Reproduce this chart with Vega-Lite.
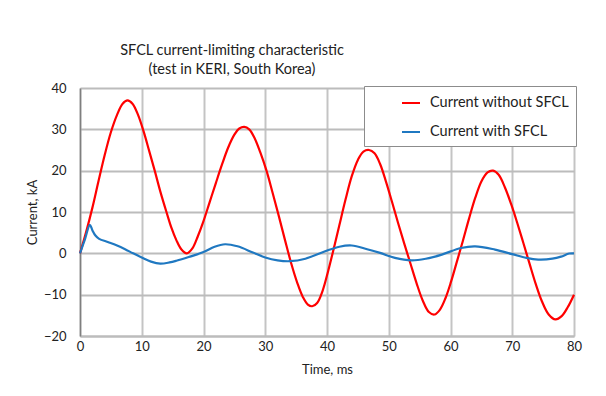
{
  "$schema": "https://vega.github.io/schema/vega-lite/v6.json",
  "width": 494,
  "height": 248,
  "autosize": {"type": "none"},
  "padding": {"left": 80, "top": 88, "right": 32, "bottom": 60},
  "background": "white",
  "title": {
    "text": ["SFCL current-limiting characteristic", "(test in KERI, South Korea)"],
    "anchor": "middle",
    "frame": "group",
    "dx": -95,
    "offset": 5,
    "fontSize": 14.5,
    "lineHeight": 19,
    "fontWeight": "normal",
    "font": "Lato",
    "color": "#222"
  },
  "datasets": {
    "curves": [
      {"t": 0, "i": 0, "series": "Current without SFCL"},
      {"t": 1.0, "i": 5.2, "series": "Current without SFCL"},
      {"t": 2.0, "i": 11, "series": "Current without SFCL"},
      {"t": 3.0, "i": 17.5, "series": "Current without SFCL"},
      {"t": 4.0, "i": 23.8, "series": "Current without SFCL"},
      {"t": 5.0, "i": 29.3, "series": "Current without SFCL"},
      {"t": 6.0, "i": 33.5, "series": "Current without SFCL"},
      {"t": 6.9, "i": 36.2, "series": "Current without SFCL"},
      {"t": 7.7, "i": 37, "series": "Current without SFCL"},
      {"t": 8.5, "i": 36.2, "series": "Current without SFCL"},
      {"t": 9.4, "i": 33.5, "series": "Current without SFCL"},
      {"t": 10.3, "i": 29.5, "series": "Current without SFCL"},
      {"t": 11.2, "i": 24.8, "series": "Current without SFCL"},
      {"t": 12.1, "i": 20, "series": "Current without SFCL"},
      {"t": 13.0, "i": 15, "series": "Current without SFCL"},
      {"t": 14.0, "i": 10, "series": "Current without SFCL"},
      {"t": 14.8, "i": 6.2, "series": "Current without SFCL"},
      {"t": 15.6, "i": 3.2, "series": "Current without SFCL"},
      {"t": 16.4, "i": 1.0, "series": "Current without SFCL"},
      {"t": 17.3, "i": 0, "series": "Current without SFCL"},
      {"t": 18.2, "i": 1.2, "series": "Current without SFCL"},
      {"t": 19.1, "i": 4.2, "series": "Current without SFCL"},
      {"t": 20.0, "i": 7.8, "series": "Current without SFCL"},
      {"t": 21.0, "i": 12.4, "series": "Current without SFCL"},
      {"t": 22.0, "i": 17, "series": "Current without SFCL"},
      {"t": 23.0, "i": 21.5, "series": "Current without SFCL"},
      {"t": 24.0, "i": 25.6, "series": "Current without SFCL"},
      {"t": 25.0, "i": 28.7, "series": "Current without SFCL"},
      {"t": 25.8, "i": 30.2, "series": "Current without SFCL"},
      {"t": 26.6, "i": 30.6, "series": "Current without SFCL"},
      {"t": 27.4, "i": 30, "series": "Current without SFCL"},
      {"t": 28.3, "i": 27.8, "series": "Current without SFCL"},
      {"t": 29.2, "i": 24.4, "series": "Current without SFCL"},
      {"t": 30.2, "i": 20, "series": "Current without SFCL"},
      {"t": 31.2, "i": 14.6, "series": "Current without SFCL"},
      {"t": 32.2, "i": 9, "series": "Current without SFCL"},
      {"t": 33.2, "i": 3.2, "series": "Current without SFCL"},
      {"t": 34.2, "i": -2.4, "series": "Current without SFCL"},
      {"t": 35.2, "i": -7.2, "series": "Current without SFCL"},
      {"t": 36.1, "i": -10.6, "series": "Current without SFCL"},
      {"t": 36.9, "i": -12.4, "series": "Current without SFCL"},
      {"t": 37.6, "i": -12.8, "series": "Current without SFCL"},
      {"t": 38.4, "i": -12, "series": "Current without SFCL"},
      {"t": 39.3, "i": -9, "series": "Current without SFCL"},
      {"t": 40.2, "i": -4.2, "series": "Current without SFCL"},
      {"t": 41.1, "i": 1.2, "series": "Current without SFCL"},
      {"t": 42.0, "i": 6.8, "series": "Current without SFCL"},
      {"t": 43.0, "i": 13, "series": "Current without SFCL"},
      {"t": 44.0, "i": 18.6, "series": "Current without SFCL"},
      {"t": 45.0, "i": 22.6, "series": "Current without SFCL"},
      {"t": 45.9, "i": 24.6, "series": "Current without SFCL"},
      {"t": 46.8, "i": 25, "series": "Current without SFCL"},
      {"t": 47.7, "i": 24.2, "series": "Current without SFCL"},
      {"t": 48.6, "i": 21.6, "series": "Current without SFCL"},
      {"t": 49.5, "i": 17.6, "series": "Current without SFCL"},
      {"t": 50.5, "i": 12.6, "series": "Current without SFCL"},
      {"t": 51.5, "i": 7.4, "series": "Current without SFCL"},
      {"t": 52.5, "i": 2.4, "series": "Current without SFCL"},
      {"t": 53.5, "i": -2.4, "series": "Current without SFCL"},
      {"t": 54.5, "i": -7.2, "series": "Current without SFCL"},
      {"t": 55.5, "i": -11.4, "series": "Current without SFCL"},
      {"t": 56.5, "i": -14.2, "series": "Current without SFCL"},
      {"t": 57.4, "i": -14.8, "series": "Current without SFCL"},
      {"t": 58.3, "i": -13.6, "series": "Current without SFCL"},
      {"t": 59.2, "i": -10.8, "series": "Current without SFCL"},
      {"t": 60.1, "i": -6.8, "series": "Current without SFCL"},
      {"t": 61.0, "i": -2.2, "series": "Current without SFCL"},
      {"t": 62.0, "i": 3, "series": "Current without SFCL"},
      {"t": 63.0, "i": 8.4, "series": "Current without SFCL"},
      {"t": 64.0, "i": 13.4, "series": "Current without SFCL"},
      {"t": 65.0, "i": 17.4, "series": "Current without SFCL"},
      {"t": 66.0, "i": 19.6, "series": "Current without SFCL"},
      {"t": 66.9, "i": 20, "series": "Current without SFCL"},
      {"t": 67.8, "i": 19, "series": "Current without SFCL"},
      {"t": 68.8, "i": 16, "series": "Current without SFCL"},
      {"t": 69.8, "i": 12, "series": "Current without SFCL"},
      {"t": 70.8, "i": 7.4, "series": "Current without SFCL"},
      {"t": 71.8, "i": 2.5, "series": "Current without SFCL"},
      {"t": 72.8, "i": -2.5, "series": "Current without SFCL"},
      {"t": 73.8, "i": -7.4, "series": "Current without SFCL"},
      {"t": 74.8, "i": -11.6, "series": "Current without SFCL"},
      {"t": 75.9, "i": -14.8, "series": "Current without SFCL"},
      {"t": 77.0, "i": -16, "series": "Current without SFCL"},
      {"t": 78.0, "i": -15.2, "series": "Current without SFCL"},
      {"t": 79.0, "i": -13, "series": "Current without SFCL"},
      {"t": 80.0, "i": -10, "series": "Current without SFCL"},
      {"t": 0, "i": 0, "series": "Current with SFCL"},
      {"t": 0.8, "i": 3.4, "series": "Current with SFCL"},
      {"t": 1.6, "i": 6.9, "series": "Current with SFCL"},
      {"t": 2.0, "i": 5.6, "series": "Current with SFCL"},
      {"t": 2.5, "i": 4.3, "series": "Current with SFCL"},
      {"t": 3.1, "i": 3.5, "series": "Current with SFCL"},
      {"t": 4.6, "i": 2.7, "series": "Current with SFCL"},
      {"t": 6.0, "i": 1.9, "series": "Current with SFCL"},
      {"t": 7.3, "i": 1.0, "series": "Current with SFCL"},
      {"t": 8.6, "i": 0, "series": "Current with SFCL"},
      {"t": 10.0, "i": -1.0, "series": "Current with SFCL"},
      {"t": 11.5, "i": -2.0, "series": "Current with SFCL"},
      {"t": 13.0, "i": -2.5, "series": "Current with SFCL"},
      {"t": 14.5, "i": -2.2, "series": "Current with SFCL"},
      {"t": 15.6, "i": -1.8, "series": "Current with SFCL"},
      {"t": 17.6, "i": -0.9, "series": "Current with SFCL"},
      {"t": 20.0, "i": 0.3, "series": "Current with SFCL"},
      {"t": 21.8, "i": 1.6, "series": "Current with SFCL"},
      {"t": 23.5, "i": 2.2, "series": "Current with SFCL"},
      {"t": 25.5, "i": 1.7, "series": "Current with SFCL"},
      {"t": 28.0, "i": 0.2, "series": "Current with SFCL"},
      {"t": 30.0, "i": -1.0, "series": "Current with SFCL"},
      {"t": 32.0, "i": -1.7, "series": "Current with SFCL"},
      {"t": 34.0, "i": -1.9, "series": "Current with SFCL"},
      {"t": 36.5, "i": -1.3, "series": "Current with SFCL"},
      {"t": 39.7, "i": 0.5, "series": "Current with SFCL"},
      {"t": 42.0, "i": 1.6, "series": "Current with SFCL"},
      {"t": 44.0, "i": 1.9, "series": "Current with SFCL"},
      {"t": 46.5, "i": 1.0, "series": "Current with SFCL"},
      {"t": 48.6, "i": 0.1, "series": "Current with SFCL"},
      {"t": 51.0, "i": -1.1, "series": "Current with SFCL"},
      {"t": 53.7, "i": -1.7, "series": "Current with SFCL"},
      {"t": 56.0, "i": -1.3, "series": "Current with SFCL"},
      {"t": 58.6, "i": -0.3, "series": "Current with SFCL"},
      {"t": 61.7, "i": 1.3, "series": "Current with SFCL"},
      {"t": 64.0, "i": 1.7, "series": "Current with SFCL"},
      {"t": 67.2, "i": 0.9, "series": "Current with SFCL"},
      {"t": 70.0, "i": -0.2, "series": "Current with SFCL"},
      {"t": 72.3, "i": -1.1, "series": "Current with SFCL"},
      {"t": 74.2, "i": -1.5, "series": "Current with SFCL"},
      {"t": 76.5, "i": -1.3, "series": "Current with SFCL"},
      {"t": 77.9, "i": -0.8, "series": "Current with SFCL"},
      {"t": 79.2, "i": -0.05, "series": "Current with SFCL"},
      {"t": 80.0, "i": 0, "series": "Current with SFCL"}
    ]
  },
  "layer": [
    {
      "data": {"name": "curves"},
      "mark": {"type": "line", "strokeWidth": 2.2, "interpolate": "catmull-rom"},
      "encoding": {
        "x": {
          "field": "t", "type": "quantitative",
          "scale": {"domain": [0, 80], "nice": false},
          "axis": {
            "title": "Time, ms",
            "tickCount": 8,
            "labelFlush": false,
            "labelOverlap": false,
            "gridColor": "#c4c4c4",
            "domainColor": "#bcbcbc", "domainWidth": 2,
            "labelPadding": 4, "titlePadding": 10
          }
        },
        "y": {
          "field": "i", "type": "quantitative",
          "scale": {"domain": [-20, 40], "nice": false},
          "axis": {
            "title": "Current, kA",
            "tickCount": 6,
            "labelOverlap": false,
            "gridColor": "#bcbcbc",
            "domainColor": "#7f7f7f", "domainWidth": 1.5,
            "labelPadding": 14, "titlePadding": 4
          }
        },
        "color": {
          "field": "series", "type": "nominal",
          "scale": {"domain": ["Current without SFCL", "Current with SFCL"], "range": ["#ff0000", "#1f78c1"]},
          "legend": {
            "title": null,
            "orient": "none",
            "legendX": 284,
            "legendY": -2,
            "strokeColor": "#8c8c8c",
            "fillColor": "white",
            "padding": 7,
            "symbolType": "stroke",
            "symbolStrokeWidth": 2,
            "symbolSize": 324,
            "symbolOffset": 30,
            "labelOffset": 9,
            "rowPadding": 12,
            "labelFontSize": 14.5,
            "labelFont": "Lato",
            "labelColor": "#222"
          }
        },
        "order": {"field": "t", "type": "quantitative"}
      }
    },
    {
      "mark": {"type": "rule", "color": "#a0a0a0", "strokeWidth": 1.5},
      "encoding": {"y": {"datum": 0, "type": "quantitative"}}
    }
  ],
  "config": {
    "view": {"stroke": null},
    "axis": {
      "grid": true,
      "gridWidth": 2,
      "gridOpacity": 1,
      "tickSize": 0,
      "labelFont": "Lato",
      "labelFontSize": 13,
      "labelColor": "#222",
      "titleFont": "Lato",
      "titleFontSize": 13,
      "titleFontWeight": "normal",
      "titleColor": "#222"
    }
  }
}
